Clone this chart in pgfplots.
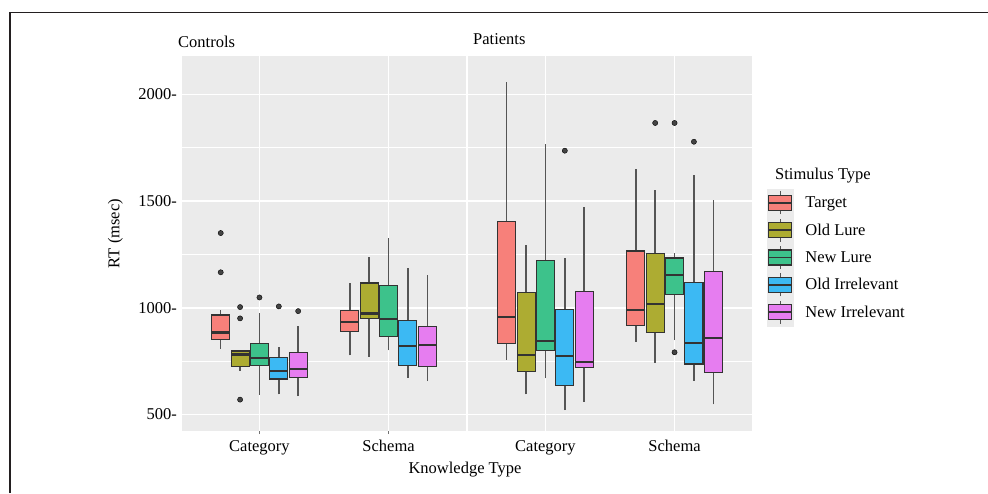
\documentclass[border=0pt]{standalone}
\usepackage{fontspec}
\setmainfont{Liberation Serif}
\usepackage{pgfplots}
\pgfplotsset{compat=1.18}

\definecolor{cTarget}{HTML}{F7807A}
\definecolor{cOldLure}{HTML}{ADAC32}
\definecolor{cNewLure}{HTML}{3DC28B}
\definecolor{cOldIrr}{HTML}{3CB9F3}
\definecolor{cNewIrr}{HTML}{E67DF0}
\definecolor{panelbg}{HTML}{EBEBEB}
\definecolor{boxline}{HTML}{333333}
\definecolor{whiskcol}{HTML}{555555}
\definecolor{outcol}{HTML}{444444}
\definecolor{framecol}{HTML}{231F20}

\pgfplotsset{
  facet/.style={
    scale only axis, width=284pt, height=375pt, anchor=south west,
    xmin=0.4, xmax=2.6, ymin=422, ymax=2180,
    axis line style={draw=none},
    axis background/.style={fill=panelbg},
    xtick={1,2}, xticklabels={Category,Schema},
    ytick={500,1000,1500,2000}, minor ytick={750,1250,1750},
    grid=both,
    major grid style={white, line width=1.6pt},
    minor grid style={white, line width=0.8pt},
    xtick pos=bottom, ytick pos=left,
    tick align=outside, major tick length=3pt, minor tick length=0pt,
    ytick style={draw=none},
    xticklabel style={inner sep=0pt, yshift=-6pt},
    yticklabel style={inner sep=0pt, xshift=-2pt},
    /pgf/number format/assume math mode=true,
    /pgf/number format/1000 sep={},
    clip=false,
  },
  boxkey/.style={legend image code/.code={
    \fill[panelbg] (0pt,-13.5pt) rectangle (26pt,13.5pt);
    \draw[whiskcol, line width=1.3pt] (13pt,-11.5pt) -- (13pt,11.5pt);
    \draw[fill=#1, draw=boxline, line width=1.1pt] (1.5pt,-7.5pt) rectangle (24.5pt,7.5pt);
    \draw[boxline, line width=1.8pt] (1.5pt,0pt) -- (24.5pt,0pt);
    \path (38pt,0pt);
  }},
}

% One box: colour, left, centre, right, lower whisker, lower quartile,
% median, upper quartile, upper whisker
\newcommand{\rtbox}[9]{%
  \addplot[forget plot, whiskcol, line width=1.4pt] coordinates {(#3,#5) (#3,#6)};
  \addplot[forget plot, whiskcol, line width=1.4pt] coordinates {(#3,#8) (#3,#9)};
  \addplot[forget plot, fill=#1, draw=boxline, line width=1.1pt]
    coordinates {(#2,#6) (#4,#6) (#4,#8) (#2,#8)} -- cycle;
  \addplot[forget plot, boxline, line width=2.2pt] coordinates {(#2,#7) (#4,#7)};
}
% Outlying points
\newcommand{\rtout}[1]{%
  \addplot[forget plot, only marks, mark=*, mark size=2.6pt,
    mark options={draw=none, fill=outcol}] coordinates {#1};
}

\begin{document}
\begin{tikzpicture}[font=\fontsize{16.5}{19.8}\selectfont]
\useasboundingbox (0,0) rectangle (988pt,493pt);
\draw[line width=1.4pt, color=framecol] (10pt,0pt) -- (10pt,480.5pt) -- (988pt,480.5pt);

% Controls
\begin{axis}[facet, at={(182pt,62pt)},
  yticklabel={\pgfmathprintnumber{\tick}-},
  xtick style={draw=black!55, line width=0.7pt}]
  % Category
  \rtbox{cTarget}{0.63}{0.70}{0.77}{808}{852}{884}{966}{989}
  \rtbox{cOldLure}{0.78}{0.85}{0.92}{705}{723}{781}{797}{802}
  \rtbox{cNewLure}{0.93}{1.00}{1.07}{591}{731}{766}{833}{973}
  \rtbox{cOldIrr}{1.08}{1.15}{1.22}{594}{666}{705}{766}{817}
  \rtbox{cNewIrr}{1.23}{1.30}{1.37}{586}{673}{711}{788}{916}
  \rtout{(0.70,1350) (0.70,1166) (0.85,1003) (0.85,950) (0.85,569)
         (1.00,1048) (1.15,1006) (1.30,984)}
  % Schema
  \rtbox{cTarget}{1.63}{1.70}{1.77}{777}{888}{934}{986}{1114}
  \rtbox{cOldLure}{1.78}{1.85}{1.92}{770}{948}{973}{1116}{1239}
  \rtbox{cNewLure}{1.93}{2.00}{2.07}{800}{863}{947}{1105}{1328}
  \rtbox{cOldIrr}{2.08}{2.15}{2.22}{672}{730}{820}{942}{1188}
  \rtbox{cNewIrr}{2.23}{2.30}{2.37}{656}{723}{825}{913}{1153}
\end{axis}

% Patients
\begin{axis}[facet, at={(468pt,62pt)},
  yticklabels={}, xtick style={draw=none},
  legend style={at={(1.0528,0.6453)}, anchor=north west, draw=none, fill=none,
    inner sep=0pt, outer sep=0pt, row sep=0pt, column sep=0pt,
    nodes={inner sep=0pt, anchor=west}},
  legend cell align=left]
  % Category
  \rtbox{cTarget}{0.63}{0.70}{0.77}{755}{831}{958}{1405}{2059}
  \rtbox{cOldLure}{0.78}{0.85}{0.92}{594}{702}{778}{1070}{1292}
  \rtbox{cNewLure}{0.93}{1.00}{1.07}{669}{800}{844}{1220}{1767}
  \rtbox{cOldIrr}{1.08}{1.15}{1.22}{520}{636}{773}{992}{1233}
  \rtbox{cNewIrr}{1.23}{1.30}{1.37}{559}{720}{747}{1075}{1472}
  \rtout{(1.15,1736)}
  % Schema
  \rtbox{cTarget}{1.63}{1.70}{1.77}{841}{916}{988}{1266}{1650}
  \rtbox{cOldLure}{1.78}{1.85}{1.92}{742}{884}{1016}{1256}{1553}
  \rtbox{cNewLure}{1.93}{2.00}{2.07}{848}{1061}{1152}{1233}{1256}
  \rtbox{cOldIrr}{2.08}{2.15}{2.22}{658}{736}{834}{1117}{1620}
  \rtbox{cNewIrr}{2.23}{2.30}{2.37}{547}{697}{858}{1169}{1503}
  \rtout{(1.85,1866) (2.00,1866) (2.00,791) (2.15,1778)}
  \addlegendimage{boxkey=cTarget}\addlegendentry{Target}
  \addlegendimage{boxkey=cOldLure}\addlegendentry{Old Lure}
  \addlegendimage{boxkey=cNewLure}\addlegendentry{New Lure}
  \addlegendimage{boxkey=cOldIrr}\addlegendentry{Old Irrelevant}
  \addlegendimage{boxkey=cNewIrr}\addlegendentry{New Irrelevant}
\end{axis}

\node[anchor=west, inner sep=0pt] at (178pt,451.5pt) {Controls};
\node[anchor=west, inner sep=0pt] at (473pt,454pt) {Patients};
\node[anchor=west, inner sep=0pt] at (775pt,317pt) {Stimulus Type};
\node[rotate=90, inner sep=0pt] at (115.5pt,259.5pt) {RT (msec)};
\node[inner sep=0pt] at (465pt,23pt) {Knowledge Type};
\end{tikzpicture}
\end{document}
